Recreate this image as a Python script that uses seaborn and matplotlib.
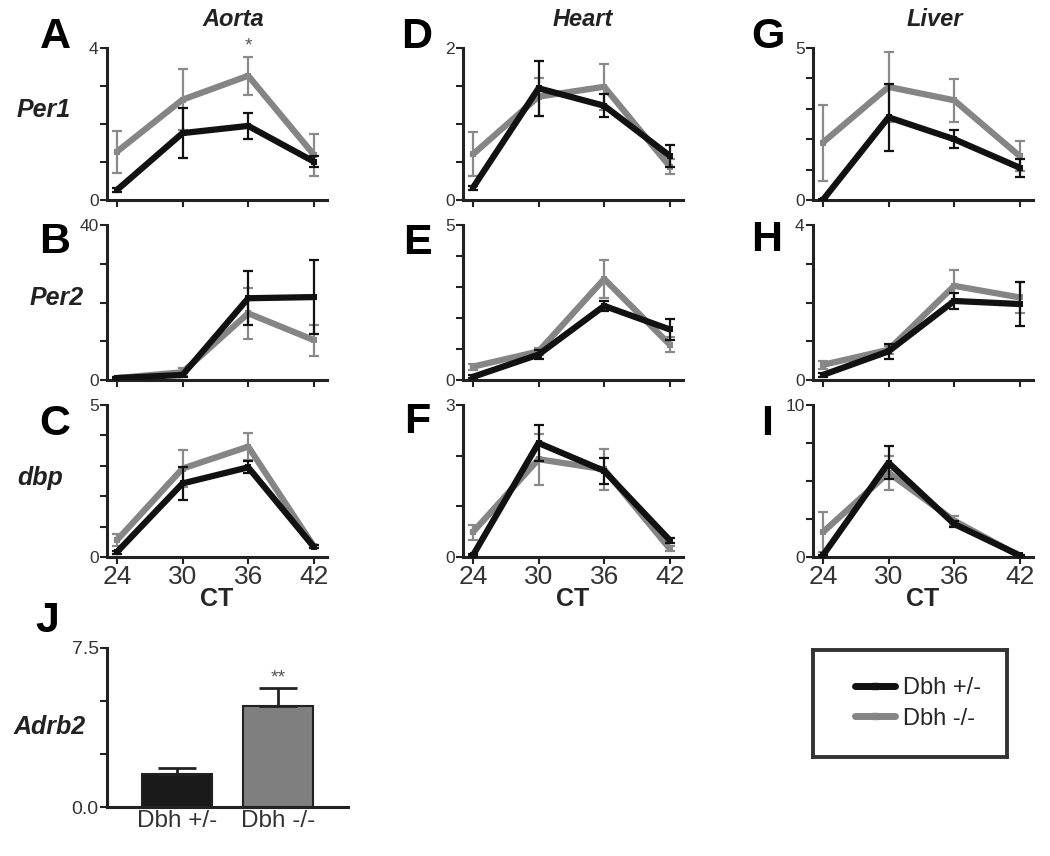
import numpy as np
import pandas as pd
import matplotlib.pyplot as plt
import seaborn as sns
from matplotlib.lines import Line2D

# --- data (mean, SEM) ---
ct = [24, 30, 36, 42]
genotypes = ["Dbh +/-", "Dbh -/-"]
colors = {"Dbh +/-": "#111111", "Dbh -/-": "#858585"}

# Aorta
per1_aorta_het = [0.26, 1.76, 1.95, 1.01]
per1_aorta_het_err = [0.05, 0.65, 0.35, 0.15]
per1_aorta_ko = [1.27, 2.64, 3.27, 1.19]
per1_aorta_ko_err = [0.55, 0.8, 0.5, 0.55]
per2_aorta_het = [0.5, 1.3, 21.1, 21.4]
per2_aorta_het_err = [0.2, 0.5, 7.0, 9.5]
per2_aorta_ko = [0.5, 2.0, 17.2, 10.3]
per2_aorta_ko_err = [0.2, 1.0, 6.5, 4.0]
dbp_aorta_het = [0.16, 2.42, 2.95, 0.33]
dbp_aorta_het_err = [0.05, 0.55, 0.2, 0.05]
dbp_aorta_ko = [0.55, 2.91, 3.63, 0.35]
dbp_aorta_ko_err = [0.2, 0.6, 0.45, 0.05]

# Heart
per1_heart_het = [0.16, 1.47, 1.24, 0.58]
per1_heart_het_err = [0.03, 0.36, 0.15, 0.15]
per1_heart_ko = [0.6, 1.36, 1.49, 0.44]
per1_heart_ko_err = [0.29, 0.25, 0.3, 0.1]
per2_heart_het = [0.1, 0.82, 2.39, 1.63]
per2_heart_het_err = [0.05, 0.15, 0.15, 0.33]
per2_heart_ko = [0.43, 0.92, 3.26, 1.14]
per2_heart_ko_err = [0.1, 0.1, 0.6, 0.25]
dbp_heart_het = [0.03, 2.25, 1.7, 0.33]
dbp_heart_het_err = [0.02, 0.36, 0.26, 0.05]
dbp_heart_ko = [0.49, 1.93, 1.73, 0.16]
dbp_heart_ko_err = [0.15, 0.5, 0.4, 0.05]

# Liver
per1_liver_het = [0.0, 2.72, 2.0, 1.06]
per1_liver_het_err = [0.02, 1.1, 0.3, 0.3]
per1_liver_ko = [1.89, 3.72, 3.28, 1.44]
per1_liver_ko_err = [1.25, 1.15, 0.7, 0.5]
per2_liver_het = [0.13, 0.74, 2.04, 1.96]
per2_liver_het_err = [0.05, 0.2, 0.2, 0.57]
per2_liver_ko = [0.39, 0.78, 2.43, 2.13]
per2_liver_ko_err = [0.1, 0.1, 0.4, 0.4]
dbp_liver_het = [0.1, 6.2, 2.17, 0.1]
dbp_liver_het_err = [0.05, 1.1, 0.2, 0.05]
dbp_liver_ko = [1.63, 5.54, 2.39, 0.05]
dbp_liver_ko_err = [1.3, 1.1, 0.3, 0.05]

# Adrb2 bar panel
adrb2_groups = ["Dbh +/-", "Dbh -/-"]
adrb2_mean = [1.55, 4.78]
adrb2_err = [0.27, 0.84]

# --- layout (pixels) ---
W, H = 1050, 856
fig = plt.figure(figsize=(W / 100, H / 100), dpi=100)
sns.set_style("white")
plt.rcParams["font.family"] = ["Liberation Sans", "DejaVu Sans"]


def ax_at(left, top, right, bottom):
    return fig.add_axes([left / W, 1 - bottom / H, (right - left) / W, (bottom - top) / H])


def label_at(x, y, s, **kw):
    fig.text(x / W, 1 - y / H, s, ha="center", va="center", **kw)


def style_axes(ax):
    ax.tick_params(axis="both", direction="out", length=5, width=1.5, color="#222222",
                   left=True, bottom=True)
    sns.despine(ax=ax)
    for s in ["left", "bottom"]:
        ax.spines[s].set_linewidth(2.2)
        ax.spines[s].set_color("#222222")


col_left = [107, 463, 813]
rows = [(48, 200), (225, 380), (405, 557)]

panels = [
    # (letter, col, row, het, het_err, ko, ko_err, ymax, yticks)
    ("A", 0, 0, per1_aorta_het, per1_aorta_het_err, per1_aorta_ko, per1_aorta_ko_err, 4, [0, 1, 2, 3, 4]),
    ("B", 0, 1, per2_aorta_het, per2_aorta_het_err, per2_aorta_ko, per2_aorta_ko_err, 40, [0, 10, 20, 30, 40]),
    ("C", 0, 2, dbp_aorta_het, dbp_aorta_het_err, dbp_aorta_ko, dbp_aorta_ko_err, 5, [0, 1, 2, 3, 4, 5]),
    ("D", 1, 0, per1_heart_het, per1_heart_het_err, per1_heart_ko, per1_heart_ko_err, 2, [0, 0.5, 1, 1.5, 2]),
    ("E", 1, 1, per2_heart_het, per2_heart_het_err, per2_heart_ko, per2_heart_ko_err, 5, [0, 1, 2, 3, 4, 5]),
    ("F", 1, 2, dbp_heart_het, dbp_heart_het_err, dbp_heart_ko, dbp_heart_ko_err, 3, [0, 1, 2, 3]),
    ("G", 2, 0, per1_liver_het, per1_liver_het_err, per1_liver_ko, per1_liver_ko_err, 5, [0, 1, 2, 3, 4, 5]),
    ("H", 2, 1, per2_liver_het, per2_liver_het_err, per2_liver_ko, per2_liver_ko_err, 4, [0, 1, 2, 3, 4]),
    ("I", 2, 2, dbp_liver_het, dbp_liver_het_err, dbp_liver_ko, dbp_liver_ko_err, 10, [0, 2.5, 5, 7.5, 10]),
]

axes = {}
for letter, c, r, het, het_err, ko, ko_err, ymax, yticks in panels:
    left = col_left[c]
    top, bottom = rows[r]
    ax = ax_at(left, top, left + 220, bottom)
    axes[letter] = ax

    df = pd.DataFrame({
        "CT": ct * 2,
        "value": het + ko,
        "genotype": [genotypes[0]] * 4 + [genotypes[1]] * 4,
    })
    sns.lineplot(data=df, x="CT", y="value", hue="genotype", hue_order=["Dbh -/-", "Dbh +/-"],
                 palette=colors, lw=4.5, marker="s", markersize=4, markeredgewidth=0,
                 errorbar=None, legend=False, ax=ax)
    ax.lines[0].set_zorder(2)
    ax.lines[1].set_zorder(3)
    ax.errorbar(ct, ko, yerr=ko_err, fmt="none", ecolor="#8a8a8a", elinewidth=1.6,
                capsize=3.5, capthick=1.6, zorder=2.5)
    ax.errorbar(ct, het, yerr=het_err, fmt="none", ecolor="#111111", elinewidth=1.6,
                capsize=3.5, capthick=1.6, zorder=3.5)

    ax.set_xlim(23.1, 43.2)
    ax.set_ylim(0, ymax)
    ax.set_xticks(ct)
    ax.set_yticks(yticks)
    ax.set_yticklabels(["0"] + [""] * (len(yticks) - 2) + [f"{ymax:g}"])
    if r == 2:
        ax.set_xticklabels([str(v) for v in ct])
        ax.set_xlabel("CT", fontsize=18, fontweight="bold", labelpad=-2)
    else:
        ax.set_xticklabels([])
        ax.set_xlabel("")
    ax.set_ylabel("")
    style_axes(ax)
    ax.tick_params(axis="y", labelsize=12.5, pad=1, labelcolor="#333333")
    ax.tick_params(axis="x", labelsize=19, pad=1, labelcolor="#333333")

# significance mark on Aorta Per1 at CT36
axes["A"].text(36, 4.05, "*", ha="center", va="center", fontsize=14, color="#555555", clip_on=False)

# --- bar panel J ---
axj = ax_at(107, 648, 348, 807)
bar_df = pd.DataFrame({"group": adrb2_groups, "value": adrb2_mean})
sns.barplot(data=bar_df, x="group", y="value", hue="group", palette=["#1a1a1a", "#7f7f7f"],
            edgecolor="#222222", linewidth=1.5, width=0.69, legend=False, ax=axj)
axj.errorbar([0, 1], adrb2_mean, yerr=[[0, 0], adrb2_err], fmt="none", ecolor="#222222",
             elinewidth=2, capsize=14, capthick=2)
axj.text(1, adrb2_mean[1] + adrb2_err[1] + 0.45, "**", ha="center", va="center", fontsize=14, color="#555555")
axj.set_xlim(-0.69, 1.69)
axj.set_ylim(0, 7.5)
axj.set_yticks([0, 2.5, 5, 7.5])
axj.set_yticklabels(["0.0", "", "", "7.5"])
axj.set_xlabel("")
axj.set_ylabel("")
style_axes(axj)
axj.tick_params(axis="y", labelsize=14, pad=1, labelcolor="#333333")
axj.tick_params(axis="x", labelsize=17.5, pad=2, labelcolor="#333333", length=0)

# --- legend box ---
axl = ax_at(813, 650, 1007, 757)
axl.set_xticks([])
axl.set_yticks([])
for s in axl.spines.values():
    s.set_visible(True)
    s.set_linewidth(2.8)
    s.set_color("#333333")
handles = [Line2D([], [], color=colors[g], lw=5, marker="s", markersize=5) for g in genotypes]
axl.legend(handles, genotypes, loc="center", bbox_to_anchor=(0.54, 0.5), frameon=False,
           fontsize=17, handlelength=1.7, handletextpad=0.35, labelspacing=0.35)

# --- panel letters, titles, gene labels ---
for letter, x, y in [("A", 55, 37), ("B", 55, 242), ("C", 55, 424),
                     ("D", 417, 37), ("E", 417, 243), ("F", 417, 422),
                     ("G", 768, 37), ("H", 767, 240), ("I", 767, 424), ("J", 47, 621)]:
    label_at(x, y, letter, fontsize=31, fontweight="bold", color="black")

for title, x in [("Aorta", 233), ("Heart", 583), ("Liver", 935)]:
    label_at(x, 19, title, fontsize=17, fontweight="bold", style="italic", color="#222222")

for gene, x, y in [("Per1", 44, 110), ("Per2", 57, 298), ("dbp", 40, 478), ("Adrb2", 50, 727)]:
    label_at(x, y, gene, fontsize=18, fontweight="bold", style="italic", color="#222222")

fig.savefig("out.png", dpi=100)
